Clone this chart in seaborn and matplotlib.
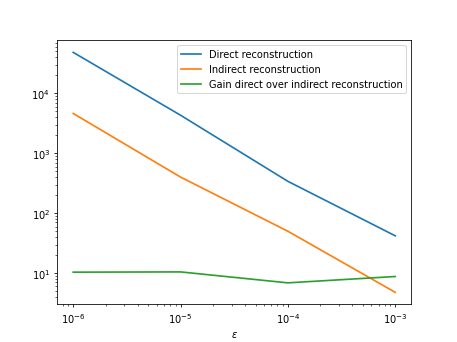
import pandas as pd
import numpy as np
import seaborn as sns
from matplotlib import pyplot as plt

# values
eps = [1e-6, 1e-5, 1e-4, 1e-3]
direct = [48000, 4300, 340, 42]
indirect = [4600, 400, 50, 4.8]
gain = [10.4, 10.5, 6.9, 8.8]

labels = ["Direct reconstruction", "Indirect reconstruction",
          "Gain direct over indirect reconstruction"]

data = pd.DataFrame({
    "eps": eps * 3,
    "value": direct + indirect + gain,
    "series": [labels[0]] * 4 + [labels[1]] * 4 + [labels[2]] * 4,
})

fig, ax = plt.subplots(figsize=(6.4, 4.8), dpi=457 / 6.4)

sns.lineplot(data=data, x="eps", y="value", hue="series",
             palette=["#1f77b4", "#ff7f0e", "#2ca02c"], linewidth=1.7, ax=ax)

ax.set_xscale("log")
ax.set_yscale("log")
ax.set_xlabel(r"$\varepsilon$")
ax.set_ylabel("")
ax.legend(loc="upper right")

fig.savefig("out.png", dpi=457 / 6.4)
